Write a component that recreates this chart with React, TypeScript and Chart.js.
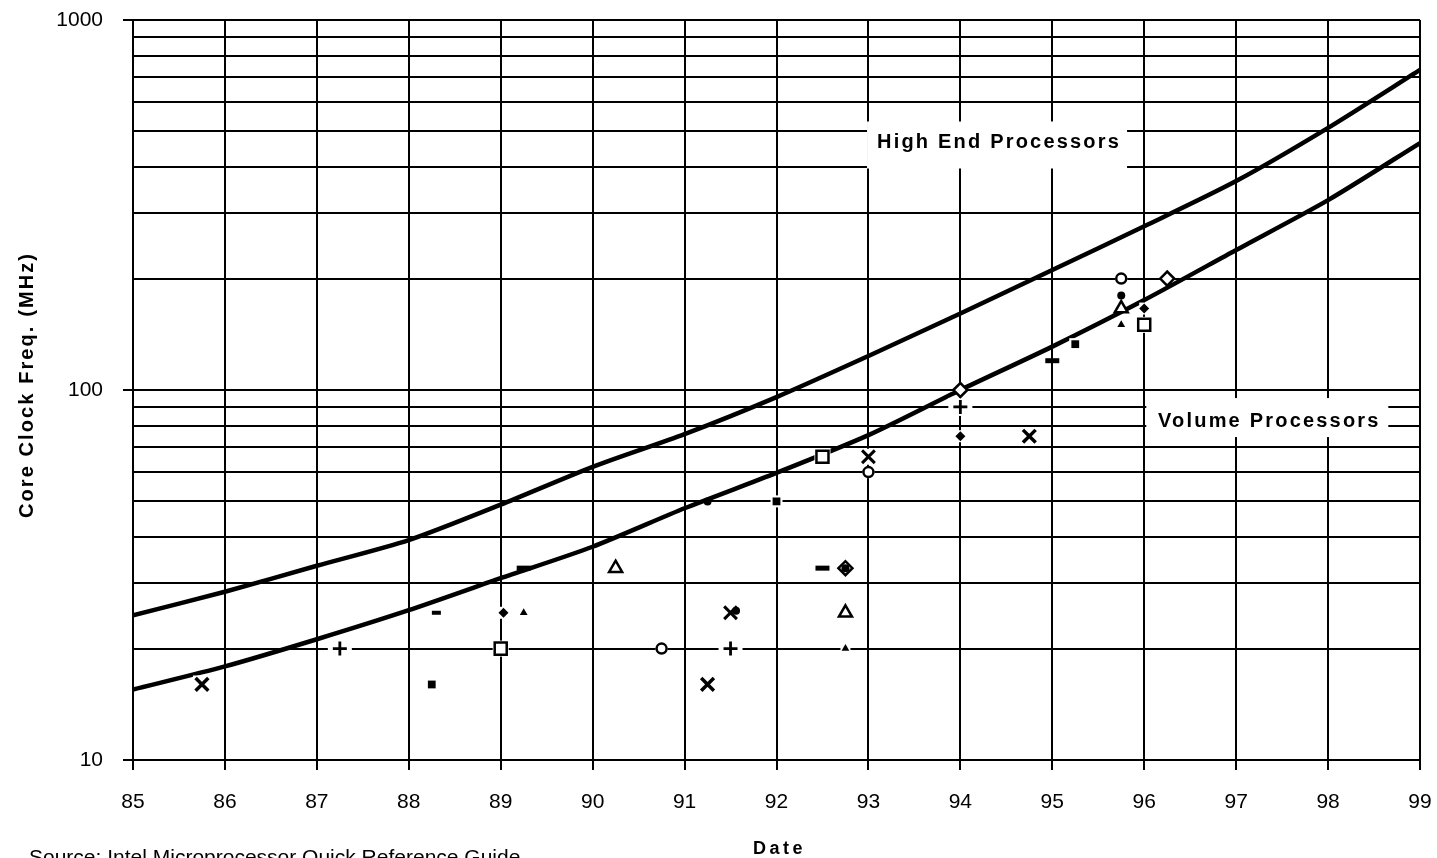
import { useEffect, useRef } from 'react';
import { Chart, registerables } from 'chart.js';

Chart.register(...registerables);

const FONT = '"Liberation Sans", Arial, Helvetica, sans-serif';

// Trend lines (year -> MHz)
const years = [85, 86, 87, 88, 89, 90, 91, 92, 93, 94, 95, 96, 97, 98, 99];
const highEndMHz = [24.6, 28.5, 33.5, 39.3, 49, 62, 76, 95.7, 123.6, 161, 211, 277, 367, 511, 733];
const volumeMHz = [15.5, 17.9, 21.2, 25.4, 31, 37.7, 47.9, 59.7, 75.5, 100, 131, 175, 239, 326, 465];

// Axis ticks
const xTicks = [85, 86, 87, 88, 89, 90, 91, 92, 93, 94, 95, 96, 97, 98, 99];
const yTicks = [10, 20, 30, 40, 50, 60, 70, 80, 90, 100, 200, 300, 400, 500, 600, 700, 800, 900, 1000];
const yLabelled = [10, 100, 1000];

// Processor points [date, MHz]
const xBoldPts = [[85.75, 16], [91.25, 16], [94.75, 75]];
const xThinPts = [[91.5, 25], [93, 66]];
const plusPts = [[87.25, 20], [91.5, 20], [94, 90]];
const smallSquarePts = [[88.25, 16], [92, 50], [95.25, 133]];
const thinDashPts = [[88.3, 25]];
const thickDashPts = [[89.25, 33], [92.5, 33], [95, 120]];
const openSquarePts = [[89, 20], [92.5, 66], [96, 150]];
const smallDiamondPts = [[89.03, 25], [94, 75], [96, 166]];
const smallTrianglePts = [[89.25, 25], [92.75, 20], [95.75, 150]];
const openTrianglePts = [[90.25, 33], [92.75, 25], [95.75, 166]];
const openCirclePts = [[90.75, 20], [93, 60], [95.75, 200]];
const dotPts = [[91.25, 50], [91.56, 25.3], [92.75, 33], [95.75, 180]];
const openDiamondPts = [[92.75, 33], [94, 100], [96.25, 200]];

const toXY = (arr: number[][]) => arr.map(([x, y]) => ({ x, y }));

const haloPlugin = {
  id: 'halo',
  afterDatasetDraw(chart: any, args: any) {
    const ds = chart.data.datasets[args.index];
    if (ds.label !== 'Volume Processors') return;
    const ctx = chart.ctx;
    ctx.save();
    ctx.fillStyle = '#ffffff';
    chart.data.datasets.forEach((d: any, i: number) => {
      if (!d.halo) return;
      const meta = chart.getDatasetMeta(i);
      meta.data.forEach((el: any) => {
        ctx.fillRect(el.x - d.halo[0], el.y - d.halo[1], d.halo[0] * 2, d.halo[1] * 2);
      });
    });
    ctx.restore();
  },
};

const labelPlugin = {
  id: 'boxLabels',
  beforeDatasetsDraw(chart: any) {
    const { ctx, scales } = chart;
    const items = [
      { text: 'High End Processors', year: 94.41, mhz: 449.5, l: 131, r: 129, t: 27, b: 20 },
      { text: 'Volume Processors', year: 97.35, mhz: 79.4, l: 122, r: 120, t: 29, b: 10 },
    ];
    ctx.save();
    items.forEach((it) => {
      const px = scales.x.getPixelForValue(it.year);
      const py = scales.y.getPixelForValue(it.mhz);
      ctx.fillStyle = '#ffffff';
      ctx.fillRect(px - it.l, py - it.t, it.l + it.r, it.t + it.b);
      ctx.fillStyle = '#000000';
      ctx.font = `bold 20px ${FONT}`;
      (ctx as any).letterSpacing = '2.2px';
      ctx.textAlign = 'center';
      ctx.textBaseline = 'alphabetic';
      ctx.fillText(it.text, px + 1, py);
    });
    ctx.restore();
  },
};

const titlePlugin = {
  id: 'titles',
  afterDraw(chart: any) {
    const { ctx, chartArea } = chart;
    ctx.save();
    ctx.fillStyle = '#000000';
    // Y axis title
    ctx.save();
    ctx.translate(33, 385);
    ctx.rotate(-Math.PI / 2);
    ctx.font = `bold 20px ${FONT}`;
    (ctx as any).letterSpacing = '2.1px';
    ctx.textAlign = 'center';
    ctx.textBaseline = 'alphabetic';
    ctx.fillText('Core Clock Freq. (MHz)', 0, 0);
    ctx.restore();
    // X axis title
    ctx.font = `bold 18px ${FONT}`;
    (ctx as any).letterSpacing = '3.5px';
    ctx.textAlign = 'center';
    ctx.textBaseline = 'alphabetic';
    ctx.fillText('Date', (chartArea.left + chartArea.right) / 2 + 3, 854);
    // Source
    (ctx as any).letterSpacing = '0px';
    ctx.font = `21px ${FONT}`;
    ctx.textAlign = 'left';
    ctx.fillText('Source: Intel Microprocessor Quick Reference Guide', 29, 864);
    ctx.restore();
  },
};

function scatterSet(label: string, pts: number[][], style: any, order: number, halo?: number[]) {
  return {
    type: 'scatter',
    label,
    data: toXY(pts),
    showLine: false,
    order,
    halo,
    ...style,
  };
}

export default function App() {
  const ref = useRef<HTMLCanvasElement>(null);

  useEffect(() => {
    if (!ref.current) return;
    const black = '#000000';
    const white = '#ffffff';
    const chart = new Chart(ref.current, {
      type: 'line',
      data: {
        datasets: [
          {
            type: 'line',
            label: 'High End Processors',
            data: years.map((y, i) => ({ x: y, y: highEndMHz[i] })),
            borderColor: black,
            borderWidth: 4.5,
            pointRadius: 0,
            tension: 0.25,
            fill: false,
            order: 100,
          },
          {
            type: 'line',
            label: 'Volume Processors',
            data: years.map((y, i) => ({ x: y, y: volumeMHz[i] })),
            borderColor: black,
            borderWidth: 4.5,
            pointRadius: 0,
            tension: 0.25,
            fill: false,
            order: 99,
          },
          scatterSet('Dot', dotPts, { pointStyle: 'circle', pointRadius: 4, pointBackgroundColor: black, pointBorderColor: black, pointBorderWidth: 0 }, 1),
          scatterSet('Open diamond', openDiamondPts, { pointStyle: 'rectRot', pointRadius: 7, pointBackgroundColor: white, pointBorderColor: black, pointBorderWidth: 2.5 }, 2),
          scatterSet('X bold', xBoldPts, { pointStyle: 'crossRot', pointRadius: 9, pointBorderColor: black, pointBorderWidth: 3.5 }, 3, [9, 9]),
          scatterSet('X thin', xThinPts, { pointStyle: 'crossRot', pointRadius: 9, pointBorderColor: black, pointBorderWidth: 3 }, 4, [8, 8]),
          scatterSet('Plus', plusPts, { pointStyle: 'cross', pointRadius: 7, pointBorderColor: black, pointBorderWidth: 2.8 }, 5, [12, 9]),
          scatterSet('Small square', smallSquarePts, { pointStyle: 'rect', pointRadius: 5.5, pointBackgroundColor: black, pointBorderColor: black, pointBorderWidth: 0 }, 6, [6, 6]),
          scatterSet('Thin dash', thinDashPts, { pointStyle: 'line', pointRadius: 4.5, pointBorderColor: black, pointBorderWidth: 4 }, 7, [6, 4]),
          scatterSet('Thick dash', thickDashPts, { pointStyle: 'line', pointRadius: 7, pointBorderColor: black, pointBorderWidth: 5 }, 8),
          scatterSet('Open square', openSquarePts, { pointStyle: 'rect', pointRadius: 8.5, pointBackgroundColor: white, pointBorderColor: black, pointBorderWidth: 2.5 }, 9, [8, 8]),
          scatterSet('Small diamond', smallDiamondPts, { pointStyle: 'rectRot', pointRadius: 5, pointBackgroundColor: black, pointBorderColor: black, pointBorderWidth: 0 }, 10, [5, 6]),
          scatterSet('Small triangle', smallTrianglePts, { pointStyle: 'triangle', pointRadius: 4.5, pointBackgroundColor: black, pointBorderColor: black, pointBorderWidth: 0 }, 11, [5, 5]),
          scatterSet('Open triangle', openTrianglePts, { pointStyle: 'triangle', pointRadius: 7.5, pointBackgroundColor: white, pointBorderColor: black, pointBorderWidth: 2.5 }, 12),
          scatterSet('Open circle', openCirclePts, { pointStyle: 'circle', pointRadius: 5, pointBackgroundColor: white, pointBorderColor: black, pointBorderWidth: 2.5 }, 13, [6, 6]),
        ] as any,
      },
      options: {
        responsive: false,
        animation: false,
        events: [],
        layout: { padding: { left: 0, right: 17, top: 20, bottom: 0 } },
        plugins: { legend: { display: false }, tooltip: { enabled: false }, title: { display: false } },
        scales: {
          x: {
            type: 'linear',
            min: 85,
            max: 99,
            afterBuildTicks: (s: any) => { s.ticks = xTicks.map((v) => ({ value: v })); },
            ticks: {
              autoSkip: false,
              maxRotation: 0,
              color: black,
              padding: 20,
              font: { family: FONT, size: 21 },
              callback: (v: any) => String(v),
            },
            grid: { color: black, lineWidth: 2, tickLength: 10, tickColor: black, tickWidth: 2 },
            border: { color: black, width: 2 },
            afterFit: (s: any) => {
              s.height = 98;
              s.paddingLeft = 0;
              s.paddingRight = 0;
              s.paddingTop = 0;
              s.paddingBottom = 0;
            },
          },
          y: {
            type: 'logarithmic',
            min: 10,
            max: 1000,
            afterBuildTicks: (s: any) => { s.ticks = yTicks.map((v) => ({ value: v })); },
            ticks: {
              autoSkip: false,
              color: black,
              padding: 20,
              font: { family: FONT, size: 21 },
              callback: (v: any) => (yLabelled.includes(Number(v)) ? String(v) : ''),
            },
            grid: {
              color: black,
              lineWidth: 2,
              tickLength: 10,
              tickWidth: 2,
              tickColor: (c: any) => (c.tick && yLabelled.includes(c.tick.value) ? black : 'rgba(0,0,0,0)'),
            },
            border: { color: black, width: 2 },
            afterFit: (s: any) => {
              s.width = 133;
              s.paddingLeft = 0;
              s.paddingRight = 0;
              s.paddingTop = 0;
              s.paddingBottom = 0;
            },
          },
        },
      } as any,
      plugins: [labelPlugin, haloPlugin, titlePlugin],
    });
    return () => chart.destroy();
  }, []);

  return (
    <div style={{ position: 'absolute', left: 0, top: 0, width: 1437, height: 858, background: '#fff' }}>
      <canvas ref={ref} width={1437} height={858} style={{ display: 'block' }} />
    </div>
  );
}
